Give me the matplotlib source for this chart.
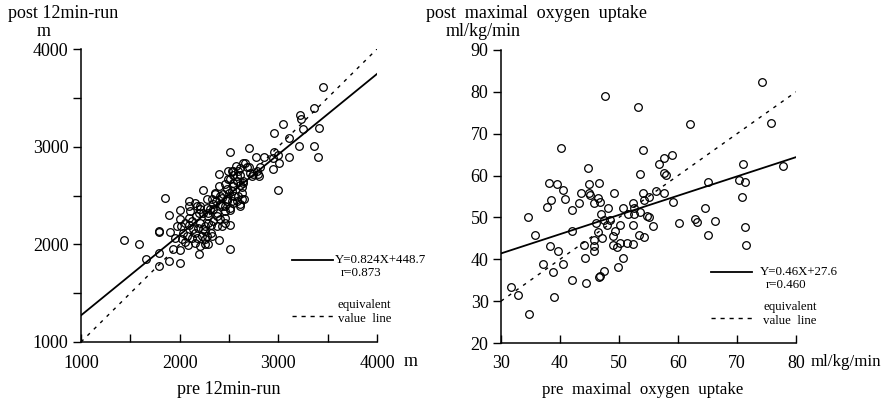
import matplotlib
matplotlib.use("Agg")
import matplotlib.pyplot as plt
from matplotlib.lines import Line2D
import numpy as np

plt.rcParams['font.family'] = ['Liberation Serif', 'DejaVu Serif']

# ---- 12-min run (m): pre vs post ----
run_pre = [1439, 1591, 1655, 1790, 1794, 1790, 1795, 1851, 1895, 1895, 1902, 1929,
           2003, 2003, 2003, 2003, 2010, 2037, 2054, 2094, 2094, 2091, 2098, 2155,
           2162, 2152, 2152, 2199, 2206, 2199, 2206, 2240, 2253, 2253, 2253, 2253,
           2274, 2290, 2307, 2314, 2314, 2341, 2358, 2375, 2402, 2402, 2402, 2409,
           2426, 2459, 2459, 2476, 2493, 2493, 2496, 2507, 2507, 2507, 2510, 2544,
           2544, 2551, 2578, 2611, 2611, 2628, 2645, 2652, 2662, 2706, 2706, 2730,
           2774, 2787, 2808, 2814, 2855, 2949, 2956, 2959, 3000, 3010, 3044, 3105,
           3105, 3213, 3220, 3226, 3253, 3361, 3361, 3405, 3415, 3449,
           2949, 3000, 2571, 2645, 2679, 2594, 2611, 2713, 2746, 2527, 2544, 2797,
           2510, 2537, 2578, 2611, 2645, 2628, 2459, 2476, 2527, 2594, 2628, 2578,
           2527, 2476, 2426, 2358, 2368, 2409, 2459, 2510, 2544, 2611, 2172, 2206,
           2240, 2290, 2341, 2375, 2409, 2341, 2290, 2240, 2189, 2138, 2223, 2274,
           2324, 2375, 2426, 2459, 2172, 2121, 2071, 2206, 2290, 2105, 2121, 2054,
           1969, 1953, 2020, 2088, 2274, 2324, 2442]
run_post = [2045, 2004, 1854, 1912, 1779, 2141, 2130, 2478, 2301, 1830, 2127, 1957,
            1943, 1810, 2349, 2257, 2188, 2120, 2025, 2444, 2393, 2274, 2195, 2427,
            2291, 2120, 2018, 1899, 2393, 2325, 2223, 2560, 2188, 2137, 2052, 2008,
            2461, 2291, 2359, 2195, 2120, 2410, 2529, 2325, 2717, 2598, 2049, 2495,
            2393, 2342, 2274, 2444, 2751, 2666, 2529, 2945, 2199, 1957, 2349, 2751,
            2598, 2495, 2700, 2785, 2410, 2529, 2632, 2461, 2830, 2990, 2796, 2700,
            2898, 2751, 2700, 2796, 2894, 2768, 2945, 3143, 2553, 2836, 3228, 3089,
            2898, 3007, 3321, 3280, 3177, 3392, 3007, 2898, 3194, 3614,
            2887, 2911, 2802, 2836, 2795, 2751, 2710, 2734, 2717, 2751, 2707, 2717,
            2666, 2625, 2649, 2604, 2649, 2591, 2615, 2564, 2546, 2495, 2461, 2444,
            2444, 2461, 2478, 2512, 2444, 2410, 2393, 2376, 2427, 2393, 2393, 2359,
            2325, 2325, 2359, 2291, 2257, 2240, 2223, 2154, 2171, 2154, 2086, 2086,
            2086, 2188, 2188, 2223, 2069, 2069, 2086, 1984, 2001, 2342, 2240, 2223,
            2188, 2069, 2052, 1991, 2376, 2461, 2512]
run_slope, run_icpt, run_r = 0.824, 448.7, 0.873

# ---- maximal oxygen uptake (ml/kg/min): pre vs post ----
vo2_pre = [31.7, 32.8, 34.8, 34.6, 35.7, 37.2, 38.3, 38.8, 39.0, 39.7, 40.5, 37.8,
           38.5, 38.2, 39.5, 40.5, 40.8, 40.2, 42.0, 42.0, 42.0, 43.3, 43.5, 44.0,
           44.2, 44.4, 44.7, 44.9, 44.9, 45.0, 45.7, 45.7, 45.7, 45.7, 46.1, 46.4,
           46.4, 46.6, 46.7, 46.7, 46.6, 46.9, 47.2, 47.5, 47.5, 47.7, 48.0, 48.2,
           48.4, 48.9, 49.0, 49.2, 49.3, 49.7, 49.8, 50.2, 50.2, 50.7, 50.7, 51.4,
           51.5, 52.3, 52.4, 52.4, 52.6, 52.6, 53.3, 53.5, 53.5, 53.4, 54.2, 54.1,
           54.1, 54.2, 54.7, 55.0, 55.1, 55.8, 56.2, 56.7, 57.7, 57.6, 57.9, 57.6,
           58.9, 59.2, 60.1, 62.1, 62.9, 63.3, 64.6, 65.1, 65.1, 66.3, 70.3, 70.8,
           71.1, 71.3, 71.3, 71.6, 74.3, 75.8, 77.8]
vo2_post = [33.4, 31.4, 26.9, 50.0, 45.8, 38.9, 43.2, 37.0, 31.0, 41.9, 38.9, 52.4,
            54.1, 58.3, 57.9, 56.6, 54.5, 66.7, 35.0, 51.7, 46.8, 53.4, 55.9, 43.3,
            40.2, 34.4, 61.9, 58.0, 55.8, 55.4, 53.4, 44.6, 43.2, 42.0, 48.6, 54.6,
            46.6, 58.3, 53.8, 36.0, 35.7, 50.7, 45.0, 37.3, 49.5, 79.1, 48.2, 52.3,
            49.5, 45.6, 43.3, 55.8, 46.8, 43.0, 38.1, 44.0, 48.1, 40.2, 52.3, 43.9,
            50.8, 43.7, 48.1, 53.4, 50.7, 52.2, 76.5, 60.4, 51.4, 45.8, 45.4, 66.0,
            55.9, 54.2, 50.3, 55.0, 50.0, 47.9, 56.2, 62.7, 64.1, 60.7, 60.1, 55.9,
            64.8, 53.8, 48.6, 72.3, 49.7, 48.9, 52.3, 58.5, 45.8, 49.2, 58.9, 54.8,
            62.7, 58.5, 47.8, 43.3, 82.4, 72.5, 62.3]
vo2_slope, vo2_icpt, vo2_r = 0.46, 27.6, 0.460

W, H = 887, 403
fig = plt.figure(figsize=(W / 100, H / 100), dpi=100)


def fx(px):
    return px / W


def fy(py):
    return 1 - py / H


def setup(ax, xlim, ylim, xstep, ystep, xlab_step, ylab_step):
    ax.set_xlim(*xlim)
    ax.set_ylim(*ylim)
    for s in ['top', 'right']:
        ax.spines[s].set_visible(False)
    for s in ['left', 'bottom']:
        ax.spines[s].set_linewidth(1.1)
    ax.set_xticks(np.arange(xlim[0], xlim[1] + 1, xstep))
    ax.set_yticks(np.arange(ylim[0], ylim[1] + 1, ystep))
    ax.set_xticklabels([str(int(v)) if (v - xlim[0]) % xlab_step == 0 else ''
                        for v in ax.get_xticks()])
    ax.set_yticklabels([str(int(v)) if (v - ylim[0]) % ylab_step == 0 else ''
                        for v in ax.get_yticks()])
    ax.tick_params(axis='x', direction='in', length=6, width=1, labelsize=13, pad=9)
    ax.tick_params(axis='y', direction='out', length=6, width=1, labelsize=13, pad=3)


def legend_block(solid_y, dash_y, x0, x1, tx, eq, rtxt):
    fig.add_artist(Line2D([fx(x0), fx(x1)], [fy(solid_y), fy(solid_y)], color='black', lw=1.3))
    fig.text(fx(tx), fy(solid_y), eq, fontsize=9.3, va='center', ha='left')
    fig.text(fx(tx + 6), fy(solid_y + 13), rtxt, fontsize=9.3, va='center', ha='left')
    fig.add_artist(Line2D([fx(x0), fx(x1)], [fy(dash_y), fy(dash_y)], color='black', lw=1,
                          ls=(0, (3, 3.5))))
    fig.text(fx(tx + 3), fy(dash_y - 11), 'equivalent', fontsize=9.3, va='center', ha='left')
    fig.text(fx(tx + 3), fy(dash_y + 3), 'value  line', fontsize=9.3, va='center', ha='left')


# left panel
ax1 = fig.add_axes([fx(81), fy(342), fx(377) - fx(81), fy(49) - fy(342)])
setup(ax1, (1000, 4000), (1000, 4000), 500, 500, 1000, 1000)
ax1.plot(run_pre, run_post, 'o', mfc='none', mec='black', ms=5.5, mew=0.9, clip_on=False)
lx = np.array([1000, 4000])
ax1.plot(lx, run_slope * lx + run_icpt, color='black', lw=1.3)
ax1.plot(lx, lx, color='black', lw=1, ls=(0, (2.5, 4)))
fig.text(fx(8), fy(13), 'post 12min-run', fontsize=13, va='center', ha='left')
fig.text(fx(44), fy(32), 'm', fontsize=13, va='center', ha='center')
fig.text(fx(411), fy(362), 'm', fontsize=13, va='center', ha='center')
fig.text(fx(229), fy(390), 'pre 12min-run', fontsize=13, va='center', ha='center')
legend_block(260, 316, 292, 333, 335, 'Y=0.824X+448.7', 'r=0.873')

# right panel
ax2 = fig.add_axes([fx(501), fy(343), fx(796) - fx(501), fy(50) - fy(343)])
setup(ax2, (30, 80), (20, 90), 10, 10, 10, 10)
ax2.plot(vo2_pre, vo2_post, 'o', mfc='none', mec='black', ms=5.5, mew=0.9, clip_on=False)
rx = np.array([30, 80])
ax2.plot(rx, vo2_slope * rx + vo2_icpt, color='black', lw=1.3)
ax2.plot(rx, rx, color='black', lw=1, ls=(0, (2.5, 4)))
fig.text(fx(426), fy(13), 'post  maximal  oxygen  uptake', fontsize=13, va='center', ha='left')
fig.text(fx(446), fy(32), 'ml/kg/min', fontsize=13, va='center', ha='left')
fig.text(fx(811), fy(362), 'ml/kg/min', fontsize=12.2, va='center', ha='left')
fig.text(fx(643), fy(390), 'pre  maximal  oxygen  uptake', fontsize=12.2, va='center', ha='center')
legend_block(272, 318, 711, 752, 760, 'Y=0.46X+27.6', 'r=0.460')

fig.savefig('out.png', dpi=100)
